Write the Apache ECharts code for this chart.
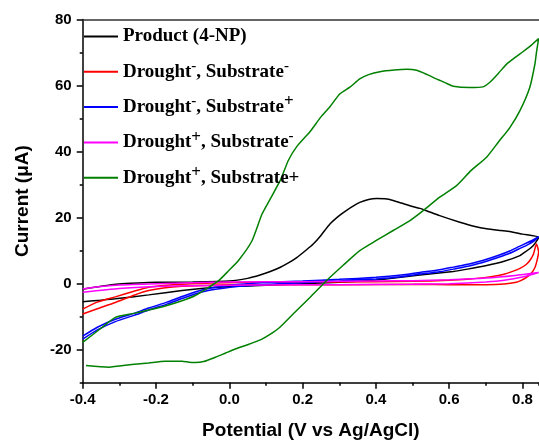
<!DOCTYPE html>
<html>
<head>
<meta charset="utf-8">
<script src="https://cdn.jsdelivr.net/npm/echarts@6/dist/echarts.min.js"></script>
<style>
  html, body { margin: 0; padding: 0; background: #fff; }
  #chart { width: 539px; height: 442px; }
</style>
</head>
<body>
<div id="chart"></div>
<script>
// axis ranges and tick labels
const xMajor = [-0.4, -0.2, 0.0, 0.2, 0.4, 0.6, 0.8];
const yMajor = [-20, 0, 20, 40, 60, 80];

// legend names
const names = ['Product (4-NP)', 'Drought- Substrate-', 'Drought- Substrate+', 'Drought+ Substrate-', 'Drought+ Substrate+'];
const colors = ['#000000', '#ff0000', '#0000ff', '#ff00ff', '#008000'];

// [potential V, current uA], scan order
const productCv = [[-0.4,-1.7],[-0.35,-0.8],[-0.3,-0.1],[-0.25,0.2],[-0.2,0.4],[-0.1,0.5],[0,0.8],[0.05,1.6],[0.084,2.6],[0.11,3.6],[0.138,4.9],[0.16,6.2],[0.184,7.9],[0.21,10.2],[0.229,12],[0.25,14.6],[0.274,18],[0.3,20.6],[0.32,22.2],[0.34,23.6],[0.356,24.6],[0.38,25.5],[0.402,25.8],[0.425,25.7],[0.447,25.2],[0.47,24.4],[0.493,23.6],[0.52,22.8],[0.538,22.1],[0.574,20.6],[0.629,18.6],[0.67,17.3],[0.702,16.6],[0.74,16.1],[0.765,15.8],[0.8,15],[0.844,14.0],
  [0.829,11.5],[0.81,9.8],[0.793,8.5],[0.75,6.8],[0.702,5.5],[0.65,4.4],[0.611,3.7],[0.52,2.6],[0.45,1.7],[0.4,1.1],[0.3,0.4],[0.2,0.0],[0.1,-0.5],[0,-0.9],[-0.038,-1.1],[-0.129,-2.1],[-0.22,-3.4],[-0.311,-4.6],[-0.36,-5.1],[-0.4,-5.5]];

const dmSmCv = [[-0.4,-7.7],[-0.36,-5.6],[-0.311,-4.0],[-0.26,-2.3],[-0.22,-1.1],[-0.17,-0.5],[-0.129,-0.2],[-0.05,0.2],[0.1,0.4],[0.3,0.5],[0.5,0.7],[0.6,1.0],[0.656,1.4],[0.7,1.9],[0.747,2.8],[0.775,3.8],[0.793,4.6],[0.81,5.8],[0.82,7.0],[0.83,9.0],[0.838,12.0],
  [0.844,9.5],[0.84,7.2],[0.834,4.9],[0.823,3.0],[0.811,1.9],[0.795,0.9],[0.783,0.4],[0.75,-0.1],[0.702,-0.3],[0.6,-0.3],[0.52,-0.2],[0.3,-0.3],[0.1,-0.3],[0,-0.3],[-0.05,-0.5],[-0.129,-0.8],[-0.18,-1.3],[-0.22,-2.1],[-0.26,-3.5],[-0.311,-5.7],[-0.36,-7.6],[-0.4,-9.2]];

const dmSpCv = [[-0.4,-15.9],[-0.36,-13.2],[-0.311,-10.8],[-0.26,-9.0],[-0.22,-7.4],[-0.17,-5.6],[-0.129,-3.9],[-0.075,-1.9],[0.007,-0.4],[0.089,0.3],[0.2,0.8],[0.3,1.3],[0.4,1.9],[0.47,2.6],[0.52,3.4],[0.574,4.2],[0.611,5.0],[0.66,6.1],[0.702,7.4],[0.735,8.6],[0.765,9.9],[0.79,11.2],[0.811,12.3],[0.83,13.3],[0.844,14.2],
  [0.83,12.8],[0.811,11.6],[0.79,10.5],[0.765,9.2],[0.735,8.0],[0.702,6.8],[0.66,5.5],[0.611,4.4],[0.574,3.6],[0.52,2.9],[0.47,2.1],[0.4,1.4],[0.3,0.8],[0.2,0.3],[0.089,-0.3],[0.007,-1.0],[-0.075,-2.5],[-0.129,-4.5],[-0.17,-6.2],[-0.22,-8.0],[-0.26,-9.6],[-0.311,-11.5],[-0.36,-14.0],[-0.4,-16.8]];

const dpSmCv = [[-0.4,-1.6],[-0.35,-0.9],[-0.3,-0.4],[-0.2,0.0],[-0.1,0.3],[0,0.5],[0.2,0.6],[0.4,0.8],[0.5,0.9],[0.6,1.2],[0.7,1.7],[0.78,2.5],[0.844,3.4],
  [0.8,2.0],[0.75,1.0],[0.7,0.5],[0.6,0.0],[0.5,-0.2],[0.3,-0.3],[0.1,-0.4],[0,-0.5],[-0.1,-0.6],[-0.2,-0.9],[-0.3,-1.5],[-0.4,-2.6]];

const dpSpCv = [[-0.4,-17.8],[-0.35,-13.5],[-0.311,-10.2],[-0.26,-9.0],[-0.22,-8.0],[-0.17,-6.6],[-0.129,-5.2],[-0.093,-3.6],[-0.056,-1.1],[-0.029,0.9],[-0.002,3.9],[0.025,7],[0.062,13],[0.089,21],[0.111,25.5],[0.14,31.5],[0.161,37.3],[0.184,41.5],[0.22,46],[0.25,50.5],[0.274,53.5],[0.302,57.5],[0.329,59.5],[0.356,62],[0.38,63.3],[0.411,64.2],[0.45,64.7],[0.484,64.9],[0.511,64.6],[0.54,63.3],[0.565,62],[0.59,60.8],[0.611,59.8],[0.656,59.4],[0.692,59.6],[0.711,61],[0.735,63.8],[0.756,66.4],[0.78,68.5],[0.802,70.3],[0.825,72.3],[0.844,74.2],
  [0.838,70],[0.834,66.6],[0.82,59.5],[0.793,52.4],[0.765,47.2],[0.735,43],[0.702,38.3],[0.66,34.3],[0.62,29.7],[0.574,26.2],[0.529,22.1],[0.493,19.1],[0.447,16.1],[0.40,13],[0.356,10],[0.31,5.5],[0.265,0.9],[0.22,-4.2],[0.174,-9.2],[0.138,-13.2],[0.111,-15.4],[0.089,-16.8],[0.05,-18.5],[0.016,-19.8],[-0.01,-21],[-0.038,-22.3],[-0.07,-23.6],[-0.093,-23.9],[-0.11,-23.8],[-0.129,-23.5],[-0.175,-23.5],[-0.22,-24.0],[-0.266,-24.5],[-0.329,-25.3],[-0.391,-24.8]];

const allData = [productCv, dmSmCv, dmSpCv, dpSmCv, dpSpCv];

// legend labels with superscripts
const legendText = {
  'Product (4-NP)': '{b|Product (4-NP)}',
  'Drought- Substrate-': '{b|Drought}{m|-}{b|, Substrate}{m|-}',
  'Drought- Substrate+': '{b|Drought}{m|-}{b|, Substrate}{p|+}',
  'Drought+ Substrate-': '{b|Drought}{p|+}{b|, Substrate}{m|-}',
  'Drought+ Substrate+': '{b|Drought}{p|+}{b|, Substrate+}'
};

const X_MIN = -0.4, X_MAX = 0.845, Y_MIN = -30, Y_MAX = 80;
const axisFont = { fontFamily: 'Liberation Sans', fontWeight: 'bold', fontSize: 15, color: '#000' };
const black = { color: '#000', width: 1.5 };

var myChart = echarts.init(document.getElementById('chart'), null, { renderer: 'canvas' });

let option = {
  animation: false,
  backgroundColor: '#fff',
  grid: { left: 82.7, right: 0, top: 19.5, bottom: 59.3, containLabel: false, outerBoundsMode: 'none' },
  legend: {
    orient: 'vertical',
    left: 84,
    top: 27,
    padding: 0,
    itemWidth: 34,
    itemHeight: 2,
    itemGap: 12.3,
    icon: 'rect',
    data: names,
    formatter: function (n) { return legendText[n]; },
    textStyle: {
      rich: {
        b: { fontFamily: 'Liberation Serif', fontWeight: 'bold', fontSize: 19, color: '#000', lineHeight: 27 },
        m: { fontFamily: 'Liberation Serif', fontWeight: 'bold', fontSize: 15, color: '#000', lineHeight: 12, verticalAlign: 'top' },
        p: { fontFamily: 'Liberation Serif', fontWeight: 'bold', fontSize: 17, color: '#000', lineHeight: 12, verticalAlign: 'top' }
      }
    }
  },
  xAxis: [
    {
      type: 'value', min: X_MIN, max: X_MAX, interval: 0.1, position: 'bottom',
      axisLine: { onZero: false, lineStyle: black },
      axisTick: { length: 3, lineStyle: black },
      axisLabel: { show: false },
      splitLine: { show: false },
      name: 'Potential (V vs Ag/AgCl)',
      nameLocation: 'middle',
      nameGap: 39,
      nameTextStyle: { fontFamily: 'Liberation Sans', fontWeight: 'bold', fontSize: 19, color: '#000' }
    },
    {
      type: 'value', min: X_MIN, max: X_MAX, position: 'bottom',
      axisLine: { show: false, onZero: false },
      axisTick: { length: 6, lineStyle: black, customValues: xMajor },
      axisLabel: Object.assign({ customValues: xMajor, margin: 10, formatter: v => v.toFixed(1) }, axisFont),
      splitLine: { show: false }
    },
    {
      type: 'value', min: X_MIN, max: X_MAX, position: 'top',
      axisLine: { onZero: false, lineStyle: { color: '#333', width: 1.5 } },
      axisTick: { show: false }, axisLabel: { show: false }, splitLine: { show: false }
    }
  ],
  yAxis: [
    {
      type: 'value', min: Y_MIN, max: Y_MAX, interval: 10, position: 'left',
      axisLine: { show: true, onZero: false, lineStyle: black },
      axisTick: { show: true, length: 3, lineStyle: black },
      axisLabel: { show: false },
      splitLine: { show: false },
      name: 'Current (\u03bcA)',
      nameLocation: 'middle',
      nameGap: 50,
      nameTextStyle: { fontFamily: 'Liberation Sans', fontWeight: 'bold', fontSize: 19, color: '#000' }
    },
    {
      type: 'value', min: Y_MIN, max: Y_MAX, position: 'left',
      axisLine: { show: false, onZero: false },
      axisTick: { show: true, length: 6, lineStyle: black, customValues: yMajor },
      axisLabel: Object.assign({ customValues: yMajor, margin: 11 }, axisFont),
      splitLine: { show: false }
    }
  ],
  series: names.map((n, i) => ({
    name: n,
    type: 'line',
    xAxisIndex: 0,
    yAxisIndex: 0,
    data: allData[i],
    showSymbol: false,
    smooth: 0.2,
    clip: true,
    color: colors[i],
    lineStyle: { color: colors[i], width: 1.5 }
  }))
};

myChart.setOption(option);
</script>
</body>
</html>
